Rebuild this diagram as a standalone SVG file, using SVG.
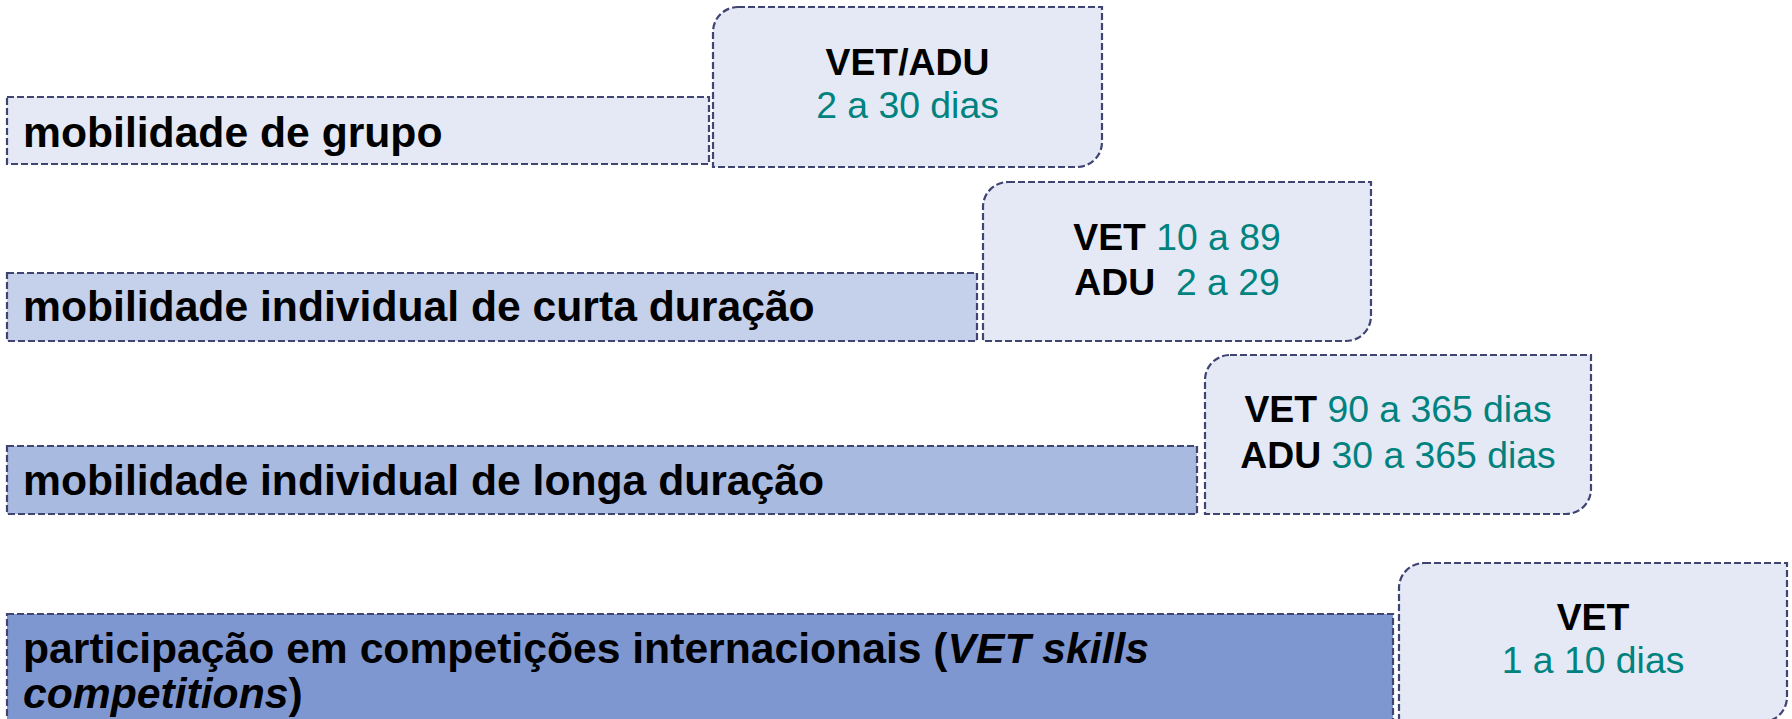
<svg xmlns="http://www.w3.org/2000/svg" width="1792" height="719" viewBox="0 0 1792 719">
<style>
.bar{stroke:#3F4470;stroke-width:2.2;stroke-dasharray:7 3}
.box{fill:#E4E9F5;stroke:#3F4470;stroke-width:2.2;stroke-dasharray:7 3}
.lab{font-family:"Liberation Sans",Arial,sans-serif;font-size:42.67px;font-weight:bold;fill:#000}
.bt{font-family:"Liberation Sans",Arial,sans-serif;font-size:37.33px;text-anchor:middle;white-space:pre}
.b{font-weight:bold;fill:#000}
.t{fill:#00827F}
</style>
<rect width="1792" height="719" fill="#fff"/>
<g id="row1">
<rect class="bar" x="7" y="97" width="702" height="67" fill="#E4E9F5"/>
<text class="lab" x="23" y="147">mobilidade de grupo</text>
</g>
<g id="box1">
<path class="box" d="M738,7 H1102 V142 A25,25 0 0 1 1077,167 H713 V32 A25,25 0 0 1 738,7 Z"/>
<text class="bt" x="907.5" y="75"><tspan class="b">VET/ADU</tspan></text>
<text class="bt t" x="907.5" y="118">2 a 30 dias</text>
</g>
<g id="row2">
<rect class="bar" x="7" y="273" width="970" height="68" fill="#C5D0EA"/>
<text class="lab" x="23" y="321">mobilidade individual de curta duração</text>
</g>
<g id="box2">
<path class="box" d="M1008,182 H1371 V316 A25,25 0 0 1 1346,341 H983 V207 A25,25 0 0 1 1008,182 Z"/>
<text class="bt" x="1177" y="250"><tspan class="b">VET</tspan><tspan class="t"> 10 a 89</tspan></text>
<text class="bt" x="1177" y="295" xml:space="preserve"><tspan class="b">ADU</tspan><tspan class="t">  2 a 29</tspan></text>
</g>
<g id="row3">
<rect class="bar" x="7" y="446" width="1190" height="68" fill="#A9BAE0"/>
<text class="lab" x="23" y="495">mobilidade individual de longa duração</text>
</g>
<g id="box3">
<path class="box" d="M1230,355 H1591 V489 A25,25 0 0 1 1566,514 H1205 V380 A25,25 0 0 1 1230,355 Z"/>
<text class="bt" x="1398" y="422"><tspan class="b">VET</tspan><tspan class="t"> 90 a 365 dias</tspan></text>
<text class="bt" x="1398" y="468"><tspan class="b">ADU</tspan><tspan class="t"> 30 a 365 dias</tspan></text>
</g>
<g id="row4">
<rect class="bar" x="7" y="614" width="1386" height="130" fill="#7F97D0"/>
<text class="lab" x="23" y="663">participação em competições internacionais (<tspan font-style="italic">VET skills</tspan></text>
<text class="lab" x="23" y="708"><tspan font-style="italic">competitions</tspan>)</text>
</g>
<g id="box4">
<path class="box" d="M1424,563 H1787 V697 A25,25 0 0 1 1762,722 H1399 V588 A25,25 0 0 1 1424,563 Z"/>
<text class="bt" x="1593" y="630"><tspan class="b">VET</tspan></text>
<text class="bt t" x="1593" y="673">1 a 10 dias</text>
</g>
<g id="connectors"></g>
</svg>
